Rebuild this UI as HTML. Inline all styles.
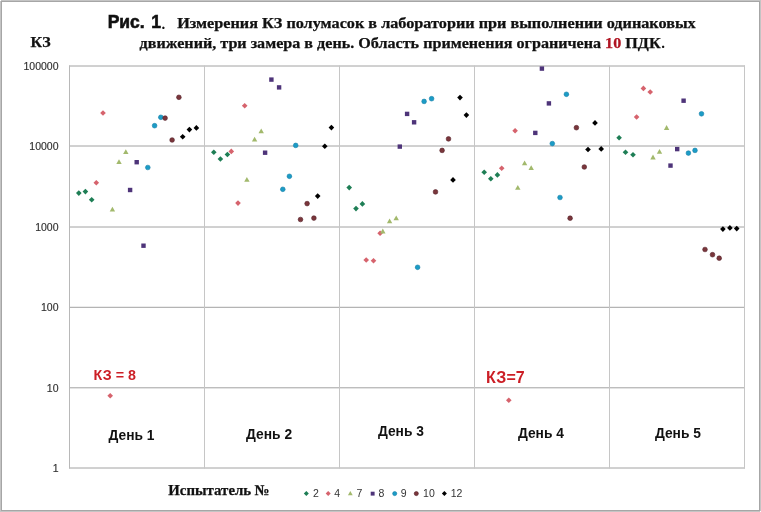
<!DOCTYPE html>
<html><head><meta charset="utf-8"><title>Рис. 1</title>
<style>
html,body{margin:0;padding:0;background:#fff;}
body{width:761px;height:512px;overflow:hidden;}
svg{display:block;}
.ax{font-family:"Liberation Sans",Arial,sans-serif;font-size:10.5px;fill:#303030;stroke:#303030;stroke-width:0.15;}
.day{font-family:"Liberation Sans",Arial,sans-serif;font-size:14px;font-weight:bold;fill:#111;}
.lg{font-family:"Liberation Sans",Arial,sans-serif;font-size:10.5px;fill:#333;}
.ser{font-family:"Liberation Serif","Times New Roman",serif;font-weight:bold;fill:#111;}
.sans{font-family:"Liberation Sans",Arial,sans-serif;}
.bt{fill:#111;stroke:#111;stroke-width:0.6;}
.st{stroke:#111;stroke-width:0.25;}
</style></head>
<body>
<svg width="761" height="512" viewBox="0 0 761 512">
<rect x="0" y="0" width="761" height="512" fill="#fff"/>
<rect x="0.5" y="0.5" width="760" height="511" fill="none" stroke="#c4c4c4" stroke-width="1"/>
<rect x="1.5" y="1.5" width="758" height="509" fill="none" stroke="#a6a6a6" stroke-width="1"/>
<rect x="0" y="0" width="1" height="1" fill="#fff"/><rect x="760" y="511" width="1" height="1" fill="#fff"/>
<text x="107.7" y="28.4" class="sans bt" font-size="17.5" font-weight="bold">Рис.</text>
<text x="151.2" y="28.4" class="sans bt" font-size="17.5" font-weight="bold">1</text>
<text x="161.5" y="28.7" class="ser" font-size="15" font-weight="normal">.</text>
<text x="177.2" y="28.4" class="ser st" font-size="14.5" textLength="518.5" lengthAdjust="spacingAndGlyphs">Измерения КЗ полумасок в лаборатории при выполнении одинаковых</text>
<text x="139.6" y="47.6" class="ser st" font-size="14.5" textLength="521" lengthAdjust="spacingAndGlyphs">движений, три замера в день. Область применения ограничена <tspan fill="#b01422" stroke="#b01422">10</tspan> ПДК</text>
<text x="661.3" y="47.6" class="ser" font-size="15" font-weight="normal">.</text>
<text x="30.6" y="47.2" class="ser st" font-size="14.8" textLength="20" lengthAdjust="spacingAndGlyphs">КЗ</text>
<line x1="69.0" y1="66.0" x2="745.0" y2="66.0" stroke="#a2a2a2" stroke-width="1"/><line x1="69.0" y1="146.0" x2="745.0" y2="146.0" stroke="#a2a2a2" stroke-width="1"/><line x1="69.0" y1="227.0" x2="745.0" y2="227.0" stroke="#a2a2a2" stroke-width="1"/><line x1="69.0" y1="307.3" x2="745.0" y2="307.3" stroke="#a2a2a2" stroke-width="1"/><line x1="69.0" y1="387.8" x2="745.0" y2="387.8" stroke="#a2a2a2" stroke-width="1"/><line x1="69.0" y1="468.0" x2="745.0" y2="468.0" stroke="#a2a2a2" stroke-width="1"/><line x1="69.5" y1="65.5" x2="69.5" y2="468.5" stroke="#b8b8b8" stroke-width="1"/><line x1="204.5" y1="65.5" x2="204.5" y2="468.5" stroke="#c6c6c6" stroke-width="1"/><line x1="339.5" y1="65.5" x2="339.5" y2="468.5" stroke="#c6c6c6" stroke-width="1"/><line x1="474.5" y1="65.5" x2="474.5" y2="468.5" stroke="#c6c6c6" stroke-width="1"/><line x1="609.5" y1="65.5" x2="609.5" y2="468.5" stroke="#c6c6c6" stroke-width="1"/><line x1="744.5" y1="65.5" x2="744.5" y2="468.5" stroke="#c6c6c6" stroke-width="1"/>
<text x="58.5" y="69.8" text-anchor="end" class="ax">100000</text><text x="58.5" y="149.8" text-anchor="end" class="ax">10000</text><text x="58.5" y="230.8" text-anchor="end" class="ax">1000</text><text x="58.5" y="311.1" text-anchor="end" class="ax">100</text><text x="58.5" y="391.6" text-anchor="end" class="ax">10</text><text x="58.5" y="471.8" text-anchor="end" class="ax">1</text>
<text x="108.5" y="440.0" class="day" textLength="46" lengthAdjust="spacingAndGlyphs">День 1</text><text x="246.1" y="439.1" class="day" textLength="46" lengthAdjust="spacingAndGlyphs">День 2</text><text x="377.9" y="436.4" class="day" textLength="46" lengthAdjust="spacingAndGlyphs">День 3</text><text x="517.9" y="437.7" class="day" textLength="46" lengthAdjust="spacingAndGlyphs">День 4</text><text x="654.9" y="437.7" class="day" textLength="46" lengthAdjust="spacingAndGlyphs">День 5</text>
<text x="93.5" y="380.2" class="sans" font-size="15" font-weight="bold" fill="#cc1f26" textLength="42.5" lengthAdjust="spacingAndGlyphs">КЗ = 8</text>
<text x="486" y="383.1" class="sans" font-size="16" font-weight="bold" fill="#cc1f26">КЗ=7</text>
<polygon points="78.8,190.3 81.6,193.1 78.8,195.9 76.0,193.1" fill="#1e7e55"/><polygon points="85.4,188.8 88.2,191.6 85.4,194.4 82.6,191.6" fill="#1e7e55"/><polygon points="91.7,196.9 94.5,199.7 91.7,202.5 88.9,199.7" fill="#1e7e55"/><polygon points="96.3,179.9 99.1,182.7 96.3,185.5 93.5,182.7" fill="#d6636d"/><polygon points="103.0,110.2 105.8,113.0 103.0,115.8 100.2,113.0" fill="#d6636d"/><polygon points="110.2,392.9 113.0,395.7 110.2,398.5 107.4,395.7" fill="#d6636d"/><polygon points="112.4,206.8 115.1,211.6 109.7,211.6" fill="#a2b96c"/><polygon points="119.0,159.3 121.7,164.1 116.3,164.1" fill="#a2b96c"/><polygon points="125.8,149.2 128.5,154.0 123.1,154.0" fill="#a2b96c"/><rect x="127.9" y="187.8" width="4.4" height="4.4" fill="#4e3479"/><rect x="134.5" y="160.0" width="4.4" height="4.4" fill="#4e3479"/><rect x="141.3" y="243.5" width="4.4" height="4.4" fill="#4e3479"/><circle cx="147.8" cy="167.5" r="2.35" fill="#1c9cc6" stroke="#1880a8" stroke-width="0.6"/><circle cx="154.6" cy="125.7" r="2.35" fill="#1c9cc6" stroke="#1880a8" stroke-width="0.6"/><circle cx="160.8" cy="117.3" r="2.35" fill="#1c9cc6" stroke="#1880a8" stroke-width="0.6"/><circle cx="165.1" cy="118.1" r="2.35" fill="#7a363b" stroke="#55222a" stroke-width="0.6"/><circle cx="172.1" cy="140.0" r="2.35" fill="#7a363b" stroke="#55222a" stroke-width="0.6"/><circle cx="178.9" cy="97.3" r="2.35" fill="#7a363b" stroke="#55222a" stroke-width="0.6"/><polygon points="182.7,134.0 185.5,136.8 182.7,139.6 179.9,136.8" fill="#000000"/><polygon points="189.4,126.8 192.2,129.6 189.4,132.4 186.6,129.6" fill="#000000"/><polygon points="196.4,125.1 199.2,127.9 196.4,130.7 193.6,127.9" fill="#000000"/><polygon points="213.8,149.4 216.6,152.2 213.8,155.0 211.0,152.2" fill="#1e7e55"/><polygon points="220.4,156.2 223.2,159.0 220.4,161.8 217.6,159.0" fill="#1e7e55"/><polygon points="227.4,151.7 230.2,154.5 227.4,157.3 224.6,154.5" fill="#1e7e55"/><polygon points="231.3,148.6 234.1,151.4 231.3,154.2 228.5,151.4" fill="#d6636d"/><polygon points="238.0,200.3 240.8,203.1 238.0,205.9 235.2,203.1" fill="#d6636d"/><polygon points="244.7,102.9 247.5,105.7 244.7,108.5 241.9,105.7" fill="#d6636d"/><polygon points="246.9,177.0 249.6,181.8 244.2,181.8" fill="#a2b96c"/><polygon points="254.6,136.8 257.3,141.6 251.9,141.6" fill="#a2b96c"/><polygon points="261.2,128.4 263.9,133.2 258.5,133.2" fill="#a2b96c"/><rect x="262.9" y="150.5" width="4.4" height="4.4" fill="#4e3479"/><rect x="269.2" y="77.4" width="4.4" height="4.4" fill="#4e3479"/><rect x="276.9" y="85.2" width="4.4" height="4.4" fill="#4e3479"/><circle cx="282.8" cy="189.3" r="2.35" fill="#1c9cc6" stroke="#1880a8" stroke-width="0.6"/><circle cx="289.4" cy="176.3" r="2.35" fill="#1c9cc6" stroke="#1880a8" stroke-width="0.6"/><circle cx="295.7" cy="145.4" r="2.35" fill="#1c9cc6" stroke="#1880a8" stroke-width="0.6"/><circle cx="300.5" cy="219.5" r="2.35" fill="#7a363b" stroke="#55222a" stroke-width="0.6"/><circle cx="307.1" cy="203.6" r="2.35" fill="#7a363b" stroke="#55222a" stroke-width="0.6"/><circle cx="313.9" cy="218.1" r="2.35" fill="#7a363b" stroke="#55222a" stroke-width="0.6"/><polygon points="317.7,193.3 320.5,196.1 317.7,198.9 314.9,196.1" fill="#000000"/><polygon points="324.8,143.5 327.6,146.3 324.8,149.1 322.0,146.3" fill="#000000"/><polygon points="331.4,124.8 334.2,127.6 331.4,130.4 328.6,127.6" fill="#000000"/><polygon points="349.2,184.8 352.0,187.6 349.2,190.4 346.4,187.6" fill="#1e7e55"/><polygon points="356.0,205.8 358.8,208.6 356.0,211.4 353.2,208.6" fill="#1e7e55"/><polygon points="362.4,201.1 365.2,203.9 362.4,206.7 359.6,203.9" fill="#1e7e55"/><polygon points="366.2,257.2 369.0,260.0 366.2,262.8 363.4,260.0" fill="#d6636d"/><polygon points="373.5,257.9 376.3,260.7 373.5,263.5 370.7,260.7" fill="#d6636d"/><polygon points="380.1,230.4 382.9,233.2 380.1,236.0 377.3,233.2" fill="#d6636d"/><polygon points="382.8,228.6 385.5,233.4 380.1,233.4" fill="#a2b96c"/><polygon points="389.6,218.4 392.3,223.2 386.9,223.2" fill="#a2b96c"/><polygon points="396.2,215.5 398.9,220.3 393.5,220.3" fill="#a2b96c"/><rect x="397.6" y="144.4" width="4.4" height="4.4" fill="#4e3479"/><rect x="404.9" y="111.7" width="4.4" height="4.4" fill="#4e3479"/><rect x="411.9" y="120.1" width="4.4" height="4.4" fill="#4e3479"/><circle cx="417.6" cy="267.3" r="2.35" fill="#1c9cc6" stroke="#1880a8" stroke-width="0.6"/><circle cx="424.1" cy="101.4" r="2.35" fill="#1c9cc6" stroke="#1880a8" stroke-width="0.6"/><circle cx="431.6" cy="98.7" r="2.35" fill="#1c9cc6" stroke="#1880a8" stroke-width="0.6"/><circle cx="435.5" cy="191.9" r="2.35" fill="#7a363b" stroke="#55222a" stroke-width="0.6"/><circle cx="442.1" cy="150.4" r="2.35" fill="#7a363b" stroke="#55222a" stroke-width="0.6"/><circle cx="448.5" cy="138.9" r="2.35" fill="#7a363b" stroke="#55222a" stroke-width="0.6"/><polygon points="453.0,177.1 455.8,179.9 453.0,182.7 450.2,179.9" fill="#000000"/><polygon points="460.0,94.8 462.8,97.6 460.0,100.4 457.2,97.6" fill="#000000"/><polygon points="466.4,112.3 469.2,115.1 466.4,117.9 463.6,115.1" fill="#000000"/><polygon points="484.2,169.4 487.0,172.2 484.2,175.0 481.4,172.2" fill="#1e7e55"/><polygon points="490.8,176.0 493.6,178.8 490.8,181.6 488.0,178.8" fill="#1e7e55"/><polygon points="497.4,172.1 500.2,174.9 497.4,177.7 494.6,174.9" fill="#1e7e55"/><polygon points="501.7,165.4 504.5,168.2 501.7,171.0 498.9,168.2" fill="#d6636d"/><polygon points="508.8,397.4 511.6,400.2 508.8,403.0 506.0,400.2" fill="#d6636d"/><polygon points="515.1,127.9 517.9,130.7 515.1,133.5 512.3,130.7" fill="#d6636d"/><polygon points="517.8,184.9 520.5,189.7 515.1,189.7" fill="#a2b96c"/><polygon points="524.6,160.5 527.3,165.3 521.9,165.3" fill="#a2b96c"/><polygon points="531.2,165.3 533.9,170.1 528.5,170.1" fill="#a2b96c"/><rect x="533.1" y="130.7" width="4.4" height="4.4" fill="#4e3479"/><rect x="539.7" y="66.4" width="4.4" height="4.4" fill="#4e3479"/><rect x="546.7" y="101.2" width="4.4" height="4.4" fill="#4e3479"/><circle cx="552.3" cy="143.6" r="2.35" fill="#1c9cc6" stroke="#1880a8" stroke-width="0.6"/><circle cx="560.0" cy="197.5" r="2.35" fill="#1c9cc6" stroke="#1880a8" stroke-width="0.6"/><circle cx="566.4" cy="94.3" r="2.35" fill="#1c9cc6" stroke="#1880a8" stroke-width="0.6"/><circle cx="570.1" cy="218.2" r="2.35" fill="#7a363b" stroke="#55222a" stroke-width="0.6"/><circle cx="576.4" cy="127.7" r="2.35" fill="#7a363b" stroke="#55222a" stroke-width="0.6"/><circle cx="584.3" cy="167.0" r="2.35" fill="#7a363b" stroke="#55222a" stroke-width="0.6"/><polygon points="588.0,146.7 590.8,149.5 588.0,152.3 585.2,149.5" fill="#000000"/><polygon points="595.0,120.1 597.8,122.9 595.0,125.7 592.2,122.9" fill="#000000"/><polygon points="601.2,146.1 604.0,148.9 601.2,151.7 598.4,148.9" fill="#000000"/><polygon points="619.1,134.9 621.9,137.7 619.1,140.5 616.3,137.7" fill="#1e7e55"/><polygon points="625.5,149.5 628.3,152.3 625.5,155.1 622.7,152.3" fill="#1e7e55"/><polygon points="633.0,152.0 635.8,154.8 633.0,157.6 630.2,154.8" fill="#1e7e55"/><polygon points="636.6,114.2 639.4,117.0 636.6,119.8 633.8,117.0" fill="#d6636d"/><polygon points="643.4,85.6 646.2,88.4 643.4,91.2 640.6,88.4" fill="#d6636d"/><polygon points="650.2,89.2 653.0,92.0 650.2,94.8 647.4,92.0" fill="#d6636d"/><polygon points="653.0,154.6 655.7,159.4 650.3,159.4" fill="#a2b96c"/><polygon points="659.5,148.9 662.2,153.7 656.8,153.7" fill="#a2b96c"/><polygon points="666.6,125.1 669.3,129.9 663.9,129.9" fill="#a2b96c"/><rect x="668.3" y="163.4" width="4.4" height="4.4" fill="#4e3479"/><rect x="675.0" y="146.9" width="4.4" height="4.4" fill="#4e3479"/><rect x="681.4" y="98.5" width="4.4" height="4.4" fill="#4e3479"/><circle cx="688.4" cy="153.1" r="2.35" fill="#1c9cc6" stroke="#1880a8" stroke-width="0.6"/><circle cx="695.0" cy="150.4" r="2.35" fill="#1c9cc6" stroke="#1880a8" stroke-width="0.6"/><circle cx="701.5" cy="113.8" r="2.35" fill="#1c9cc6" stroke="#1880a8" stroke-width="0.6"/><circle cx="705.0" cy="249.5" r="2.35" fill="#7a363b" stroke="#55222a" stroke-width="0.6"/><circle cx="712.5" cy="254.7" r="2.35" fill="#7a363b" stroke="#55222a" stroke-width="0.6"/><circle cx="719.2" cy="258.2" r="2.35" fill="#7a363b" stroke="#55222a" stroke-width="0.6"/><polygon points="722.9,226.3 725.7,229.1 722.9,231.9 720.1,229.1" fill="#000000"/><polygon points="729.9,225.1 732.7,227.9 729.9,230.7 727.1,227.9" fill="#000000"/><polygon points="736.7,225.8 739.5,228.6 736.7,231.4 733.9,228.6" fill="#000000"/>
<text x="168.3" y="495.1" class="ser st" font-size="14.8" textLength="101.5" lengthAdjust="spacingAndGlyphs">Испытатель №</text>
<polygon points="306.3,491.1 308.8,493.6 306.3,496.1 303.8,493.6" fill="#1e7e55"/><text x="313.1" y="497.3" class="lg">2</text><polygon points="328.2,491.1 330.7,493.6 328.2,496.1 325.7,493.6" fill="#d6636d"/><text x="334.2" y="497.3" class="lg">4</text><polygon points="350.3,491.0 352.7,495.3 347.9,495.3" fill="#a2b96c"/><text x="356.6" y="497.3" class="lg">7</text><rect x="370.7" y="491.7" width="3.9" height="3.9" fill="#4e3479"/><text x="378.4" y="497.3" class="lg">8</text><circle cx="394.7" cy="493.6" r="2.07" fill="#1c9cc6" stroke="#1880a8" stroke-width="0.6"/><text x="400.8" y="497.3" class="lg">9</text><circle cx="416.3" cy="493.6" r="2.07" fill="#7a363b" stroke="#55222a" stroke-width="0.6"/><text x="423.1" y="497.3" class="lg">10</text><polygon points="444.4,491.1 446.9,493.6 444.4,496.1 441.9,493.6" fill="#000000"/><text x="450.7" y="497.3" class="lg">12</text>
</svg>
</body></html>
